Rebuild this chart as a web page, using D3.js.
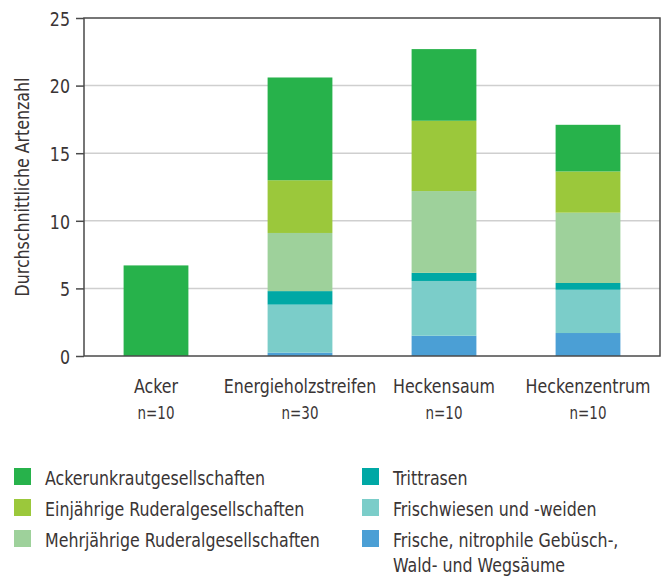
<!DOCTYPE html>
<html>
<head>
<meta charset="utf-8">
<script src="https://cdn.jsdelivr.net/npm/d3@7"></script>
<style>
  body { margin: 0; background: #fff; }
  svg text { font-family: "DejaVu Sans Condensed", "Liberation Sans Narrow", "Roboto", sans-serif; fill: #3a3535; }
</style>
</head>
<body>
<svg id="chart" width="664" height="578"></svg>
<script>
// sites on the x axis
var sites = ["Acker", "Energieholzstreifen", "Heckensaum", "Heckenzentrum"];
var sampleSizes = ["n=10", "n=30", "n=10", "n=10"];

// mean species numbers per vegetation group (bottom to top of stack)
var frischeGebuesch = [0, 0.25, 1.5, 1.7];
var frischwiesen = [0, 3.55, 4.05, 3.2];
var trittrasen = [0, 1.0, 0.6, 0.5];
var mehrjaehrige = [0, 4.3, 6.05, 5.2];
var einjaehrige = [0, 3.9, 5.2, 3.05];
var ackerunkraut = [6.7, 7.6, 5.3, 3.45];

var yTicks = [0, 5, 10, 15, 20, 25];

var groupKeys = ["frischeGebuesch", "frischwiesen", "trittrasen", "mehrjaehrige", "einjaehrige", "ackerunkraut"];
var groupValues = [frischeGebuesch, frischwiesen, trittrasen, mehrjaehrige, einjaehrige, ackerunkraut];
var groupLabels = {
  ackerunkraut: ["Ackerunkrautgesellschaften"],
  einjaehrige: ["Einjährige Ruderalgesellschaften"],
  mehrjaehrige: ["Mehrjährige Ruderalgesellschaften"],
  trittrasen: ["Trittrasen"],
  frischwiesen: ["Frischwiesen und -weiden"],
  frischeGebuesch: ["Frische, nitrophile Gebüsch-,", "Wald- und Wegsäume"]
};
var groupColours = {
  ackerunkraut: "#27b24b",
  einjaehrige: "#9bc83b",
  mehrjaehrige: "#9ed19b",
  trittrasen: "#00a8a5",
  frischwiesen: "#7bcdc9",
  frischeGebuesch: "#4b9fd5"
};
var legendCol1 = ["ackerunkraut", "einjaehrige", "mehrjaehrige"];
var legendCol2 = ["trittrasen", "frischwiesen", "frischeGebuesch"];

var frameColour = "#4a4a4a";
var gridColour = "#cfcfcf";
var squeeze = "scale(0.88,1)"; // the original uses a narrow typeface

var plotLeft = 84, plotRight = 660, plotTop = 18, plotBottom = 356;

var svg = d3.select("#chart");

// build table rows for d3.stack
var rows = sites.map(function (s, i) {
  var row = { site: s };
  groupKeys.forEach(function (k, j) { row[k] = groupValues[j][i]; });
  return row;
});

var x = d3.scaleBand()
  .domain(sites)
  .range([plotLeft, plotRight])
  .paddingInner(0.55)
  .paddingOuter(0.275);

var y = d3.scaleLinear()
  .domain([0, 25])
  .range([plotBottom, plotTop]);

// gridlines
svg.append("g")
  .selectAll("line")
  .data(yTicks.filter(function (d) { return d > 0 && d < 25; }))
  .enter().append("line")
  .attr("x1", plotLeft)
  .attr("x2", plotRight)
  .attr("y1", function (d) { return y(d); })
  .attr("y2", function (d) { return y(d); })
  .attr("stroke", gridColour)
  .attr("stroke-width", 1.5);

// stacked bars
var stack = d3.stack().keys(groupKeys);
var series = stack(rows);

svg.append("g")
  .selectAll("g")
  .data(series)
  .enter().append("g")
  .attr("fill", function (d) { return groupColours[d.key]; })
  .selectAll("rect")
  .data(function (d) { return d; })
  .enter().append("rect")
  .filter(function (d) { return d[1] - d[0] > 0; })
  .attr("x", function (d) { return x(d.data.site); })
  .attr("width", x.bandwidth())
  .attr("y", function (d) { return y(d[1]); })
  .attr("height", function (d) { return y(d[0]) - y(d[1]); });

// frame
svg.append("rect")
  .attr("x", plotLeft)
  .attr("y", plotTop)
  .attr("width", plotRight - plotLeft)
  .attr("height", plotBottom - plotTop)
  .attr("fill", "none")
  .attr("stroke", frameColour)
  .attr("stroke-width", 1.5);

// y axis
var yAxis = d3.axisLeft(y)
  .tickValues(yTicks)
  .tickSize(8)
  .tickPadding(6);

var yg = svg.append("g")
  .attr("transform", "translate(" + plotLeft + ",0)")
  .call(yAxis);
yg.select(".domain").remove();
yg.selectAll(".tick line").attr("stroke", frameColour).attr("stroke-width", 1.5);
yg.selectAll(".tick text")
  .attr("font-size", 20)
  .attr("font-family", null)
  .attr("fill", null)
  .attr("dy", "0.36em")
  .attr("x", -14 / 0.88)
  .attr("transform", squeeze);

svg.append("g")
  .attr("transform", "translate(29," + ((plotTop + plotBottom) / 2) + ") rotate(-90)")
  .append("text")
  .attr("transform", squeeze)
  .attr("text-anchor", "middle")
  .attr("font-size", 20)
  .text("Durchschnittliche Artenzahl");

// x labels
var xl = svg.append("g")
  .selectAll("g")
  .data(sites)
  .enter().append("g")
  .attr("transform", function (d) { return "translate(" + (x(d) + x.bandwidth() / 2) + ",0) " + squeeze; });

xl.append("text")
  .attr("y", 393)
  .attr("text-anchor", "middle")
  .attr("font-size", 20)
  .text(function (d) { return d; });

xl.append("text")
  .attr("y", 419)
  .attr("text-anchor", "middle")
  .attr("font-size", 17)
  .text(function (d, i) { return sampleSizes[i]; });

// legend
function drawLegend(keys, x0) {
  var items = svg.append("g")
    .selectAll("g")
    .data(keys)
    .enter().append("g")
    .attr("transform", function (d, i) { return "translate(" + x0 + "," + (468 + i * 31) + ")"; });

  items.append("rect")
    .attr("width", 17)
    .attr("height", 17)
    .attr("fill", function (d) { return groupColours[d]; });

  items.append("g")
    .attr("transform", "translate(31,0) " + squeeze)
    .append("text")
    .attr("font-size", 20)
    .selectAll("tspan")
    .data(function (d) { return groupLabels[d]; })
    .enter().append("tspan")
    .attr("x", 0)
    .attr("y", function (d, i) { return 17 + i * 25; })
    .text(function (d) { return d; });
}

drawLegend(legendCol1, 14);
drawLegend(legendCol2, 362);
</script>
</body>
</html>
